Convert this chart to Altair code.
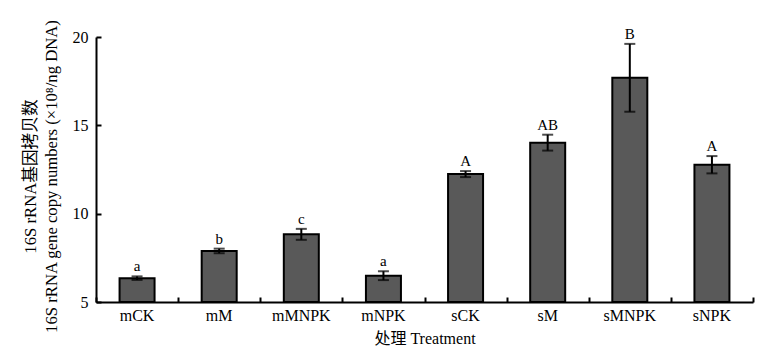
import altair as alt
import pandas as pd

cats = ["mCK", "mM", "mMNPK", "mNPK", "sCK", "sM", "sMNPK", "sNPK"]
means = [6.35, 7.89, 8.83, 6.49, 12.24, 14.02, 17.69, 12.77]
errs = [0.10, 0.13, 0.31, 0.25, 0.17, 0.45, 1.92, 0.49]
letters = ["a", "b", "c", "a", "A", "AB", "B", "A"]
y_ticks = [5, 10, 15, 20]
y_base = 5

df = pd.DataFrame({"cat": cats, "mean": means, "err": errs, "letter": letters})
df["lo"] = df["mean"] - df["err"]
df["hi"] = df["mean"] + df["err"]

FONT = "Liberation Serif, Noto Sans CJK SC"
W, H = 657, 265

xscale = alt.Scale(domain=cats, paddingInner=0, paddingOuter=0)
yscale = alt.Scale(domain=[5, 20], nice=False, zero=False)

base = alt.Chart(df)

bars = base.mark_bar(width=35, fill="#595959", stroke="black", strokeWidth=2).encode(
    x=alt.X("cat:N", scale=xscale, sort=cats,
            axis=alt.Axis(title="处理 Treatment", orient="bottom", domain=True, domainColor="black",
                          domainWidth=2, ticks=False, tickSize=0, labelAngle=0, labelPadding=5,
                          labelFont=FONT, labelFontSize=16, labelColor="black",
                          titleFont=FONT, titleFontSize=16, titleFontWeight="normal",
                          titleColor="black", titlePadding=7)),
    y=alt.Y("mean:Q", scale=yscale,
            axis=alt.Axis(title=["16S rRNA基因拷贝数", "16S rRNA gene copy numbers (×10⁸/ng DNA)"],
                          orient="left", values=y_ticks, domain=True, domainColor="black",
                          domainWidth=2, ticks=False, tickSize=0, grid=False, labelPadding=8,
                          labelFont=FONT, labelFontSize=16, labelColor="black",
                          titleFont=FONT, titleFontSize=16.7, titleFontWeight="normal",
                          titleColor="black", titleLineHeight=21, titlePadding=12,
                          titleY=139, titleAlign="center")),
    y2=alt.datum(y_base),
)

rules = base.mark_rule(color="black", strokeWidth=2).encode(
    x=alt.X("cat:N", scale=xscale, sort=cats,
            axis=alt.Axis(title=None, orient="bottom", domain=False, labels=False, ticks=True,
                          tickSize=5, tickWidth=2, tickColor="black", tickBand="extent", offset=-5)),
    y=alt.Y("lo:Q", scale=yscale,
            axis=alt.Axis(title=None, orient="left", values=y_ticks, domain=False, labels=False,
                          ticks=True, tickSize=5, tickWidth=2, tickColor="black", grid=False, offset=-5)),
    y2="hi:Q",
)

caps_hi = base.mark_tick(color="black", thickness=2, size=11).encode(
    x=alt.X("cat:N", scale=xscale, sort=cats, axis=None),
    y=alt.Y("hi:Q", scale=yscale, axis=None))
caps_lo = base.mark_tick(color="black", thickness=2, size=11).encode(
    x=alt.X("cat:N", scale=xscale, sort=cats, axis=None),
    y=alt.Y("lo:Q", scale=yscale, axis=None))

labels = base.mark_text(font=FONT, fontSize=15, color="black", baseline="bottom", dy=-2).encode(
    x=alt.X("cat:N", scale=xscale, sort=cats, axis=None),
    y=alt.Y("hi:Q", scale=yscale, axis=None), text="letter:N")

chart = alt.layer(bars, rules, caps_hi, caps_lo, labels).resolve_axis(
    x="independent", y="independent"
).properties(
    width=W, height=H,
    background="white",
    autosize=alt.AutoSizeParams(type="none"),
    padding={"left": 88, "top": 29, "right": 4, "bottom": 56},
).configure_view(stroke=None)

chart.save("out.html", embed_options={"renderer": "svg", "actions": False})
